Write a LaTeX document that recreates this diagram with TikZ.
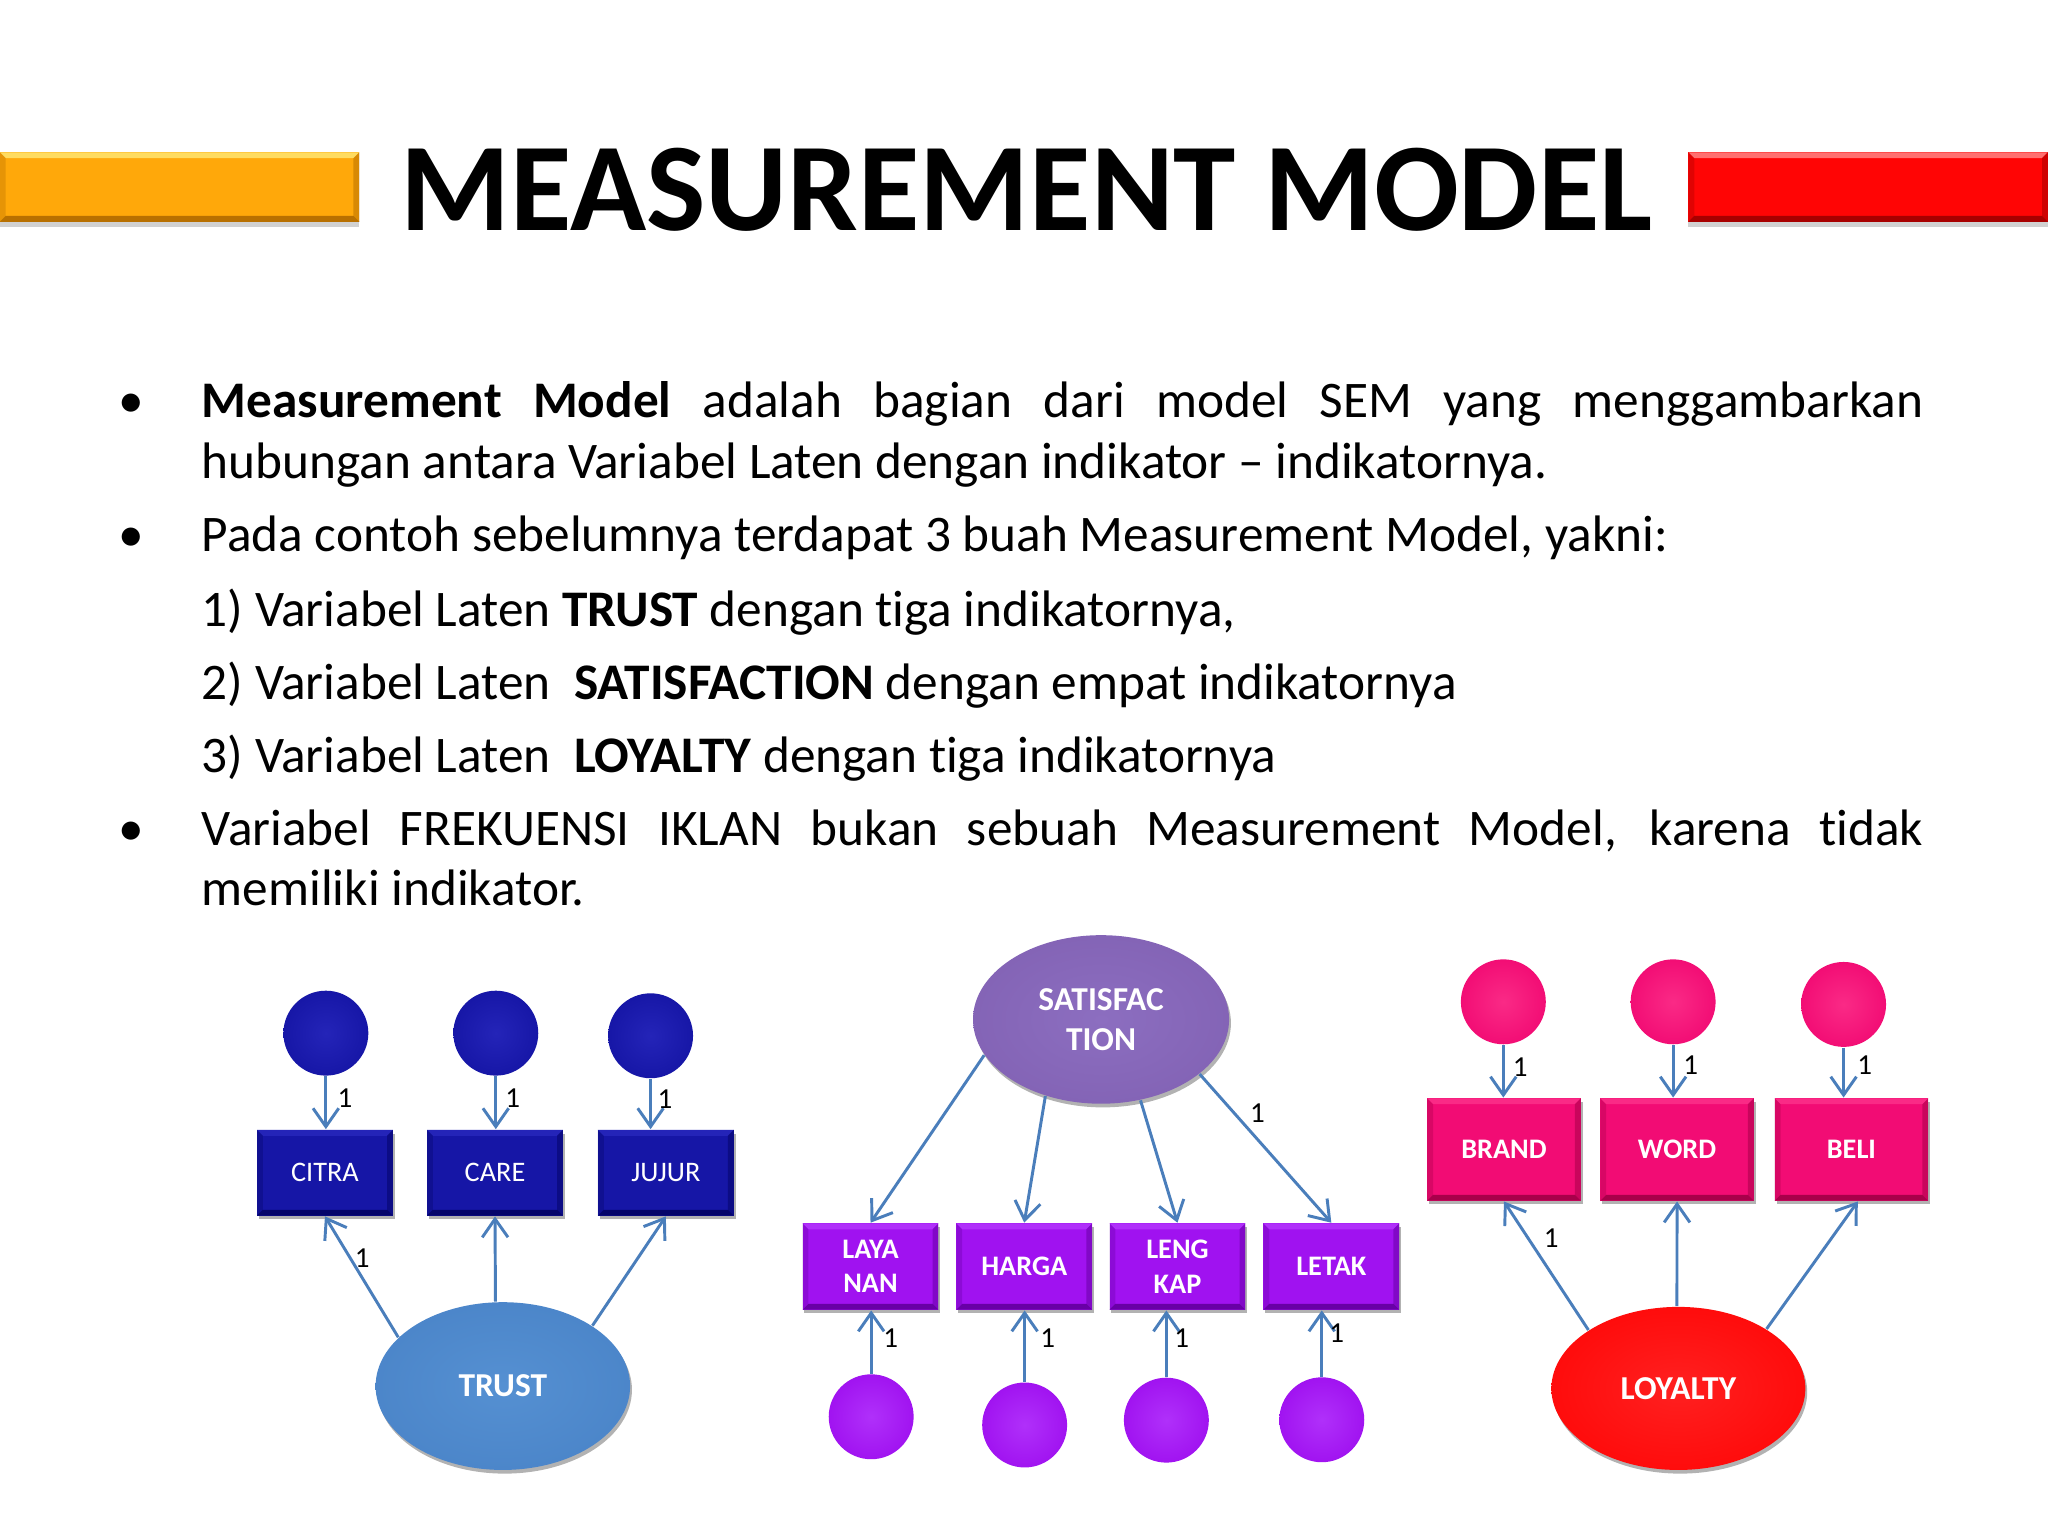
\documentclass[tikz,border=0pt]{standalone}
\usepackage{fontspec}
\setmainfont{Carlito}[Ligatures={TeX,NoCommon}]
\usetikzlibrary{arrows.meta,shapes.geometric,shadows}

\newlength\pxu
\setlength\pxu{0.0125cm}

\definecolor{arrowc}{HTML}{4A7EBB}
\definecolor{tbl}{HTML}{1616A6}
\definecolor{tbld}{HTML}{05056A}
\definecolor{tbll}{HTML}{2424B8}
\definecolor{trst}{HTML}{4A84C8}
\definecolor{trstd}{HTML}{2E5C9C}
\definecolor{trstl}{HTML}{5590D2}
\definecolor{sat}{HTML}{8262B4}
\definecolor{satd}{HTML}{563A88}
\definecolor{satl}{HTML}{8C6EC0}
\definecolor{vio}{HTML}{A012F0}
\definecolor{viod}{HTML}{6800A6}
\definecolor{viol}{HTML}{B030FA}
\definecolor{pnk}{HTML}{F20C74}
\definecolor{pnkd}{HTML}{A8004A}
\definecolor{pnkl}{HTML}{FA2A86}
\definecolor{loy}{HTML}{FF0808}
\definecolor{loyd}{HTML}{BE0000}
\definecolor{loyl}{HTML}{FF2020}
\definecolor{orng}{HTML}{FFA80A}
\definecolor{orngl}{HTML}{FFDC60}
\definecolor{orngd}{HTML}{B87000}
\definecolor{redb}{HTML}{FF0505}
\definecolor{redbl}{HTML}{FF7070}
\definecolor{redbd}{HTML}{A80000}
\definecolor{rbev}{HTML}{FFFFFF}

\pgfdeclareradialshading{ballblue}{\pgfpointorigin}{color(0bp)=(tbll); color(26bp)=(tbl); color(42bp)=(tbl); color(50bp)=(tbld)}
\pgfdeclareradialshading{ballvio}{\pgfpointorigin}{color(0bp)=(viol); color(26bp)=(vio); color(42bp)=(vio); color(50bp)=(viod)}
\pgfdeclareradialshading{ballpnk}{\pgfpointorigin}{color(0bp)=(pnkl); color(26bp)=(pnk); color(42bp)=(pnk); color(50bp)=(pnkd)}
\pgfdeclareradialshading{elltrust}{\pgfpointorigin}{color(0bp)=(trstl); color(30bp)=(trst); color(45bp)=(trst); color(50bp)=(trstd)}
\pgfdeclareradialshading{ellsat}{\pgfpointorigin}{color(0bp)=(satl); color(30bp)=(sat); color(45bp)=(sat); color(50bp)=(satd)}
\pgfdeclareradialshading{ellloy}{\pgfpointorigin}{color(0bp)=(loyl); color(30bp)=(loy); color(45bp)=(loy); color(50bp)=(loyd)}

\newcommand\titlefnt{\fontsize{34.2pt}{40pt}\selectfont\bfseries}
\newcommand\bodyfnt{\fontsize{13.97pt}{16.6pt}\selectfont}
\newcommand\lblfnt{\fontsize{7.9pt}{9pt}\selectfont}
\newcommand\rectfnt{\fontsize{7.7pt}{9.35pt}\selectfont}
\newcommand\ellfnt{\fontsize{9.1pt}{10.9pt}\selectfont\bfseries}

\tikzset{
  bevel/.style 2 args={path picture={
    \fill[#1] (path picture bounding box.north west) -- (path picture bounding box.north east)
      -- ([shift={(-1.6pt,-1.6pt)}]path picture bounding box.north east)
      -- ([shift={(1.6pt,-1.6pt)}]path picture bounding box.north west) -- cycle;
    \fill[#2] (path picture bounding box.south west) -- (path picture bounding box.south east)
      -- ([shift={(-1.6pt,1.6pt)}]path picture bounding box.south east)
      -- ([shift={(1.6pt,1.6pt)}]path picture bounding box.south west) -- cycle;
    \fill[#2,opacity=0.55] (path picture bounding box.north east) -- (path picture bounding box.south east)
      -- ([shift={(-1.6pt,1.6pt)}]path picture bounding box.south east)
      -- ([shift={(-1.6pt,-1.6pt)}]path picture bounding box.north east) -- cycle;
    \fill[#2,opacity=0.35] (path picture bounding box.north west) -- (path picture bounding box.south west)
      -- ([shift={(1.6pt,1.6pt)}]path picture bounding box.south west)
      -- ([shift={(1.6pt,-1.6pt)}]path picture bounding box.north west) -- cycle;
  }},
  shad/.style={drop shadow={shadow xshift=0.5pt, shadow yshift=-1pt, opacity=0.3, fill=black}},
  arr/.style={draw=arrowc, line width=0.8pt, -{Straight Barb[length=5pt,width=7pt,line width=0.8pt]}},
  one/.style={font=\lblfnt, text=black, inner sep=0pt},
  bodytxt/.style={font=\bodyfnt, anchor=base west, inner sep=0pt},
  bul/.style={font=\bodyfnt, anchor=base, inner sep=0pt},
  ind/.style={rectangle, text=white, align=center, font=\rectfnt, inner sep=0pt, shad},
  trect/.style={ind, minimum width=1.3cm, minimum height=0.82cm, fill=tbl, bevel={tbll}{tbld}},
  srect/.style={ind, minimum width=1.3cm, minimum height=0.825cm, fill=vio, bevel={viol}{viod}, font=\rectfnt\bfseries},
  lrect/.style={ind, minimum width=1.469cm, minimum height=0.98cm, fill=pnk, bevel={pnkl}{pnkd}, font=\rectfnt\bfseries},
  errc/.style={circle, minimum size=0.8125cm, inner sep=0pt, shade},
  tcirc/.style={errc, shading=ballblue},
  pcirc/.style={errc, shading=ballvio},
  kcirc/.style={errc, shading=ballpnk},
  lat/.style={ellipse, inner sep=0pt, text=white, align=center, font=\ellfnt, shade, shad},
  tell/.style={lat, minimum width=2.435cm, minimum height=1.605cm, shading=elltrust},
  sell/.style={lat, minimum width=2.45cm, minimum height=1.6125cm, shading=ellsat},
  lell/.style={lat, minimum width=2.43cm, minimum height=1.56cm, shading=ellloy},
  bar/.style={rectangle, inner sep=0pt, minimum width=3.44cm, minimum height=0.665cm,
    drop shadow={shadow xshift=0pt, shadow yshift=-1.5pt, opacity=0.18, fill=black}},
}

\begin{document}
\begin{tikzpicture}[x=0.0125cm, y=-0.0125cm]
\useasboundingbox[fill=white] (0,0) rectangle (1568,1176);

% title and bars
\node[bar, fill=orng, bevel={orngl}{orngd}] (lbar) at (137.5,143.2) {};
\node[bar, fill=redb, bevel={redbl}{redbd}] (rbar) at (1430.3,143.2) {};
\node[font=\titlefnt, anchor=base, inner sep=0pt] (title) at (786,176.6) {MEASUREMENT MODEL};

% body text
\node[bul] (b1) at (100.8,320) {•};
\node[bodytxt] (l1) at (154,320) {\makebox[1318\pxu][s]{\textbf{Measurement Model} adalah bagian dari model SEM yang menggambarkan}};
\node[bodytxt] (l2) at (154,366) {hubungan antara Variabel Laten dengan indikator – indikatornya.};
\node[bul] (b2) at (100.8,422.4) {•};
\node[bodytxt] (l3) at (154,422.4) {Pada contoh sebelumnya terdapat 3 buah Measurement Model, yakni:};
\node[bodytxt] (l4) at (154,479.3) {1) Variabel Laten \textbf{TRUST} dengan tiga indikatornya,};
\node[bodytxt] (l5) at (154,535.5) {2) Variabel Laten~~\textbf{SATISFACTION} dengan empat indikatornya};
\node[bodytxt] (l6) at (154,591.6) {3) Variabel Laten~~\textbf{LOYALTY} dengan tiga indikatornya};
\node[bul] (b3) at (100.8,647.5) {•};
\node[bodytxt] (l7) at (154,647.5) {\makebox[1318\pxu][s]{Variabel FREKUENSI IKLAN bukan sebuah Measurement Model, karena tidak}};
\node[bodytxt] (l8) at (154,693.5) {memiliki indikator.};

% TRUST model
\node[tcirc] (tc1) at (249.5,791) {};
\node[tcirc] (tc2) at (379.6,791) {};
\node[tcirc] (tc3) at (498.1,793) {};
\node[trect] (citra) at (248.8,897.9) {CITRA};
\node[trect] (care) at (379,897.9) {CARE};
\node[trect] (jujur) at (509.8,897.9) {JUJUR};
\node[tell] (trust) at (385,1061.2) {TRUST};
\draw[arr] (tc1.south) -- (tc1.south |- citra.north);
\draw[arr] (tc2.south) -- (tc2.south |- care.north);
\draw[arr] (tc3.south) -- (tc3.south |- jujur.north);
\draw[arr] (trust.155) -- (citra.south);
\draw[arr] (trust.95) -- (care.south);
\draw[arr] (trust.34) -- (jujur.south);
\node[one] (t1) at (264.2,840.5) {1};
\node[one] (t2) at (392.6,840.5) {1};
\node[one] (t3) at (509.2,841.8) {1};
\node[one] (t4) at (277.4,963.2) {1};

% SATISFACTION model
\node[sell] (satis) at (843,780.5) {SATISFAC\\TION};
\node[srect] (laya) at (666.5,969.7) {LAYA\\NAN};
\node[srect] (harga) at (784.2,969.7) {HARGA};
\node[srect] (leng) at (901.5,969.7) {LENG\\KAP};
\node[srect] (letak) at (1019.3,969.7) {LETAK};
\node[pcirc] (pc1) at (667,1084.7) {};
\node[pcirc] (pc2) at (784.5,1091) {};
\node[pcirc] (pc3) at (893,1087.3) {};
\node[pcirc] (pc4) at (1012,1087) {};
\draw[arr] (satis.197) -- (laya.north);
\draw[arr] (satis.234) -- (harga.north);
\draw[arr] (satis.296) -- (leng.north);
\draw[arr] (satis.331) -- (letak.north);
\draw[arr] (pc1.north) -- (pc1.north |- laya.south);
\draw[arr] (pc2.north) -- (pc2.north |- harga.south);
\draw[arr] (pc3.north) -- (pc3.north |- leng.south);
\draw[arr] (pc4.north) -- (pc4.north |- letak.south);
\node[one] (s0) at (962.7,851.9) {1};
\node[one] (s1) at (682,1024.7) {1};
\node[one] (s2) at (802.2,1024.7) {1};
\node[one] (s3) at (904.8,1024.7) {1};
\node[one] (s4) at (1023.5,1020.9) {1};

% LOYALTY model
\node[kcirc] (kc1) at (1151,767) {};
\node[kcirc] (kc2) at (1281,767) {};
\node[kcirc] (kc3) at (1411.5,769) {};
\node[lrect] (brand) at (1151.5,880.1) {BRAND};
\node[lrect] (word) at (1284,880.1) {WORD};
\node[lrect] (beli) at (1417.5,880.1) {BELI};
\node[lell] (loyal) at (1285,1063) {LOYALTY};
\draw[arr] (kc1.south) -- (kc1.south |- brand.north);
\draw[arr] (kc2.south) -- (kc2.south |- word.north);
\draw[arr] (kc3.south) -- (kc3.south |- beli.north);
\draw[arr] (loyal.147) -- (brand.south);
\draw[arr] (loyal.91) -- (word.south);
\draw[arr] (loyal.34) -- (beli.-83);
\node[one] (k1) at (1164,816.8) {1};
\node[one] (k2) at (1294.5,815.5) {1};
\node[one] (k3) at (1427.6,815.5) {1};
\node[one] (k4) at (1187.7,948.1) {1};
\end{tikzpicture}
\end{document}
